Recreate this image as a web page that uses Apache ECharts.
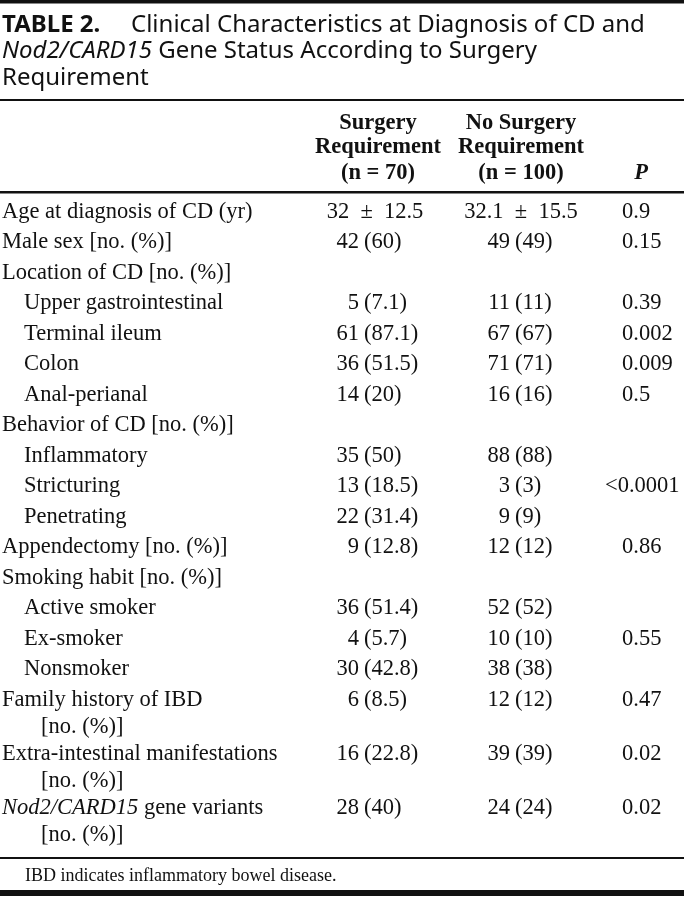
<!DOCTYPE html>
<html>
<head>
<meta charset="utf-8">
<script src="https://cdn.jsdelivr.net/npm/echarts@6/dist/echarts.min.js"></script>
<style>
html,body{margin:0;padding:0;background:#fff;}
#chart{width:684px;height:899px;}
</style>
</head>
<body>
<div id="chart"></div>
<script>
// ---- Data ----
var titleLabel = "TABLE 2.";
var titleText1 = "Clinical Characteristics at Diagnosis of CD and";
var titleItalic2 = "Nod2/CARD15";
var titleText2 = " Gene Status According to Surgery";
var titleText3 = "Requirement";

var headerSurgery = ["Surgery", "Requirement", "(n = 70)"];
var headerNoSurgery = ["No Surgery", "Requirement", "(n = 100)"];
var headerP = "P";

var rowLabels = [
  "Age at diagnosis of CD (yr)",
  "Male sex [no. (%)]",
  "Location of CD [no. (%)]",
  "Upper gastrointestinal",
  "Terminal ileum",
  "Colon",
  "Anal-perianal",
  "Behavior of CD [no. (%)]",
  "Inflammatory",
  "Stricturing",
  "Penetrating",
  "Appendectomy [no. (%)]",
  "Smoking habit [no. (%)]",
  "Active smoker",
  "Ex-smoker",
  "Nonsmoker",
  "Family history of IBD",
  "Extra-intestinal manifestations",
  "{it|Nod2/CARD15} gene variants"
];
var rowIndent = [0,0,0,1,1,1,1,0,1,1,1,0,0,1,1,1,0,0,0];
var rowContinuation = ["","","","","","","","","","","","","","","","","[no. (%)]","[no. (%)]","[no. (%)]"];

var ageSurgery = "32\u2002\u00b1\u200212.5";
var ageNoSurgery = "32.1\u2002\u00b1\u200215.5";

var surgeryCount = [null,42,null,5,61,36,14,null,35,13,22,9,null,36,4,30,6,16,28];
var surgeryPct   = [null,"60",null,"7.1","87.1","51.5","20",null,"50","18.5","31.4","12.8",null,"51.4","5.7","42.8","8.5","22.8","40"];
var noSurgeryCount = [null,49,null,11,67,71,16,null,88,3,9,12,null,52,10,38,12,39,24];
var noSurgeryPct   = [null,"49",null,"11","67","71","16",null,"88","3","9","12",null,"52","10","38","12","39","24"];
var pValues = ["0.9","0.15","","0.39","0.002","0.009","0.5","","","<0.0001","","0.86","","","0.55","","0.47","0.02","0.02"];

var footnote = "IBD indicates inflammatory bowel disease.";

// ---- Layout (computed, not data) ----
var W = 684, H = 899;
var SERIF = '"Liberation Serif","Times New Roman",serif';
var SANS = '"Noto Sans","Open Sans",sans-serif';
var BODY = 22.5;
var TSIZE = 24;
var rowY = [];
(function(){
  var y = 212;
  for (var i = 0; i < rowLabels.length; i++) {
    rowY.push(y);
    y += rowContinuation[i] ? 54 : 30.5;
  }
})();

var chart = echarts.init(document.getElementById('chart'), null, {renderer: 'canvas'});

function txt(x, y, text, opt) {
  opt = opt || {};
  return {
    type: 'text',
    x: x, y: y,
    style: {
      text: text,
      fill: '#111',
      font: (opt.style || '') + ' ' + (opt.weight || 'normal') + ' ' + (opt.size || BODY) + 'px ' + (opt.family || SERIF),
      align: opt.align || 'left',
      verticalAlign: 'middle',
      rich: opt.rich
    }
  };
}

var itRich = { it: { fontStyle: 'italic', fontFamily: SERIF, fontSize: BODY, fill: '#111' } };

function renderRow(params, api) {
  var i = api.value(0);
  var p = function(x, y){ return api.coord([x, y]); };
  var y = rowY[i];
  var kids = [];
  var lx = rowIndent[i] ? 24 : 2;
  var pt = p(lx, y);
  kids.push(txt(pt[0], pt[1], rowLabels[i], {rich: itRich}));
  if (rowContinuation[i]) {
    var pc = p(41, y + 27);
    kids.push(txt(pc[0], pc[1], rowContinuation[i]));
  }
  if (i === 0) {
    var a = p(375, y), b = p(521, y);
    kids.push(txt(a[0], a[1], ageSurgery, {align: 'center'}));
    kids.push(txt(b[0], b[1], ageNoSurgery, {align: 'center'}));
  }
  if (surgeryCount[i] != null) {
    var c1 = p(359, y), c2 = p(364, y);
    kids.push(txt(c1[0], c1[1], String(surgeryCount[i]), {align: 'right'}));
    kids.push(txt(c2[0], c2[1], '(' + surgeryPct[i] + ')'));
  }
  if (noSurgeryCount[i] != null) {
    var d1 = p(510, y), d2 = p(515, y);
    kids.push(txt(d1[0], d1[1], String(noSurgeryCount[i]), {align: 'right'}));
    kids.push(txt(d2[0], d2[1], '(' + noSurgeryPct[i] + ')'));
  }
  if (pValues[i]) {
    var pv = pValues[i];
    var px = pv.charAt(0) === '<' ? 605 : 622;
    var pp = p(px, y);
    kids.push(txt(pp[0], pp[1], pv));
  }
  return { type: 'group', children: kids };
}

function renderStatic(params, api) {
  var p = function(x, y){ return api.coord([x, y]); };
  var kids = [];
  function rect(y, h) {
    var a = p(0, y), b = p(W, y + h);
    kids.push({ type: 'rect', shape: { x: a[0], y: a[1], width: b[0] - a[0], height: b[1] - a[1] }, style: { fill: '#111' } });
  }
  rect(0, 3.5);
  rect(99, 2);
  rect(191, 2.5);
  rect(857, 2);
  rect(890, 6);
  var t;
  t = p(2, 25); kids.push(txt(t[0], t[1], titleLabel, {family: SANS, weight: 'bold', size: TSIZE}));
  t = p(131, 25); kids.push(txt(t[0], t[1], titleText1, {family: SANS, size: TSIZE}));
  t = p(2, 51); kids.push(txt(t[0], t[1], '{i|' + titleItalic2 + '}' + titleText2, {family: SANS, size: TSIZE,
      rich: { i: { fontStyle: 'italic', fontFamily: SANS, fontSize: TSIZE, fill: '#111' } }}));
  t = p(2, 78); kids.push(txt(t[0], t[1], titleText3, {family: SANS, size: TSIZE}));
  var hy = [123, 147, 173];
  for (var k = 0; k < 3; k++) {
    t = p(378, hy[k]); kids.push(txt(t[0], t[1], headerSurgery[k], {weight: 'bold', align: 'center'}));
    t = p(521, hy[k]); kids.push(txt(t[0], t[1], headerNoSurgery[k], {weight: 'bold', align: 'center'}));
  }
  t = p(641, 173); kids.push(txt(t[0], t[1], headerP, {weight: 'bold', style: 'italic', align: 'center'}));
  t = p(25, 876); kids.push(txt(t[0], t[1], footnote, {size: 18}));
  return { type: 'group', children: kids };
}

var rowIdx = rowLabels.map(function(_, i){ return [i]; });

chart.setOption({
  backgroundColor: '#fff',
  animation: false,
  grid: { left: 0, right: 0, top: 0, bottom: 0 },
  xAxis: { type: 'value', min: 0, max: W, show: false },
  yAxis: { type: 'value', min: 0, max: H, inverse: true, show: false },
  series: [
    { type: 'custom', renderItem: renderStatic, data: [[0]], silent: true, clip: false },
    { type: 'custom', renderItem: renderRow, data: rowIdx, silent: true, clip: false, encode: { x: -1, y: -1 } }
  ]
});
</script>
</body>
</html>
